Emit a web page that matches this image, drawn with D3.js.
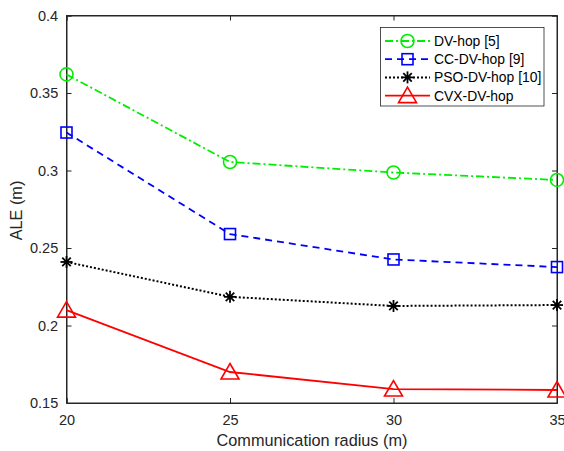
<!DOCTYPE html>
<html><head><meta charset="utf-8">
<script src="https://cdn.jsdelivr.net/npm/d3@7"></script>
<style>body{margin:0;background:#fff}svg{display:block;font-family:"Liberation Sans",Arial,sans-serif}</style>
</head><body><svg id="c" width="564" height="451"></svg>
<script>
const radii = [20, 25, 30, 35];
const dvHop = [0.362, 0.3055, 0.2987, 0.2939];
const ccDvHop = [0.3245, 0.259, 0.2426, 0.2377];
const psoDvHop = [0.241, 0.2185, 0.2126, 0.2132];
const cvxDvHop = [0.2099, 0.1700, 0.1590, 0.1584];
const yTicks = [0.15, 0.2, 0.25, 0.3, 0.35, 0.4];
const xTicks = [20, 25, 30, 35];
const seriesNames = ["DV-hop [5]", "CC-DV-hop [9]", "PSO-DV-hop [10]", "CVX-DV-hop"];

const series = [
  {name: seriesNames[0], vals: dvHop, color: "#00ee00", dash: "8,3,2,3", marker: "circle"},
  {name: seriesNames[1], vals: ccDvHop, color: "#0000ff", dash: "7,5", marker: "square"},
  {name: seriesNames[2], vals: psoDvHop, color: "#000000", dash: "2,2", marker: "star"},
  {name: seriesNames[3], vals: cvxDvHop, color: "#ff0000", dash: null, marker: "triangle"}
];

const L = 66.5, R = 557, T = 15.5, B = 403;
const svg = d3.select("#c");
const x = d3.scaleLinear().domain([20, 35]).range([L, R]);
const y = d3.scaleLinear().domain([0.15, 0.4]).range([B, T]);
const axc = "#262626";

svg.append("rect").attr("x", L).attr("y", T).attr("width", R - L).attr("height", B - T)
  .attr("fill", "none").attr("stroke", axc).attr("stroke-width", 1);

const fmt = d => d3.format("")(+d.toFixed(2));
const gx = svg.append("g").attr("transform", `translate(0,${B})`)
  .call(d3.axisBottom(x).tickValues(xTicks).tickSize(-5).tickPadding(11.3).tickFormat(d3.format("d")));
const gy = svg.append("g").attr("transform", `translate(${L},0)`)
  .call(d3.axisLeft(y).tickValues(yTicks).tickSize(-5).tickPadding(8.3).tickFormat(fmt));
const gxt = svg.append("g").attr("transform", `translate(0,${T})`)
  .call(d3.axisTop(x).tickValues(xTicks).tickSize(-5).tickFormat(""));
const gyr = svg.append("g").attr("transform", `translate(${R},0)`)
  .call(d3.axisRight(y).tickValues(yTicks).tickSize(-5).tickFormat(""));
[gx, gy, gxt, gyr].forEach(g => {
  g.attr("font-size", 14.5);
  g.select(".domain").attr("stroke", axc);
  g.selectAll(".tick line").attr("stroke", axc);
  g.selectAll("text").attr("fill", axc).attr("font-size", 14.5).attr("font-family", "Liberation Sans, Arial, sans-serif");
});

svg.append("text").attr("x", 312).attr("y", 445.5).attr("text-anchor", "middle")
  .attr("font-size", 16.3).attr("fill", axc).text("Communication radius (m)");
svg.append("text").attr("transform", `translate(22,${210.5}) rotate(-90)`).attr("text-anchor", "middle")
  .attr("font-size", 16.3).attr("fill", axc).text("ALE (m)");

function drawMarker(g, type, cx, cy, color) {
  if (type === "circle") {
    g.append("circle").attr("cx", cx).attr("cy", cy).attr("r", 6.5).attr("fill", "none").attr("stroke", color).attr("stroke-width", 1.6);
  } else if (type === "square") {
    g.append("rect").attr("x", cx - 5.5).attr("y", cy - 5.5).attr("width", 11).attr("height", 11).attr("fill", "none").attr("stroke", color).attr("stroke-width", 1.6);
  } else if (type === "star") {
    const r = 6;
    for (let a = 0; a < 4; a++) {
      const ang = a * Math.PI / 4;
      g.append("line").attr("x1", cx - r * Math.cos(ang)).attr("y1", cy - r * Math.sin(ang))
        .attr("x2", cx + r * Math.cos(ang)).attr("y2", cy + r * Math.sin(ang))
        .attr("stroke", color).attr("stroke-width", 1.8);
    }
  } else if (type === "triangle") {
    const h = 8.5;
    g.append("path").attr("d", `M${cx},${cy - h} L${cx + 9},${cy + 7} L${cx - 9},${cy + 7} Z`)
      .attr("fill", "none").attr("stroke", color).attr("stroke-width", 1.6);
  }
}

const line = d3.line().x((d, i) => x(radii[i])).y(d => y(d));
series.forEach(s => {
  const g = svg.append("g");
  g.append("path").datum(s.vals).attr("d", line).attr("fill", "none").attr("stroke", s.color)
    .attr("stroke-width", s.marker === "star" ? 2 : 1.8).attr("stroke-dasharray", s.dash);
  s.vals.forEach((v, i) => drawMarker(g, s.marker, x(radii[i]), y(v), s.color));
});

const lg = svg.append("g");
lg.append("rect").attr("x", 380.5).attr("y", 27.5).attr("width", 163.5).attr("height", 78.5)
  .attr("fill", "#fff").attr("stroke", axc).attr("stroke-width", 0.8);
series.forEach((s, i) => {
  const yy = 41 + i * 18.2;
  lg.append("line").attr("x1", 385).attr("x2", 430).attr("y1", yy).attr("y2", yy)
    .attr("stroke", s.color).attr("stroke-width", s.marker === "star" ? 2 : 1.8).attr("stroke-dasharray", s.dash);
  drawMarker(lg, s.marker, 407.5, yy, s.color);
  lg.append("text").attr("x", 434).attr("y", yy + 4.9).attr("font-size", 13.9).attr("fill", "#000").text(s.name);
});
</script></body></html>
